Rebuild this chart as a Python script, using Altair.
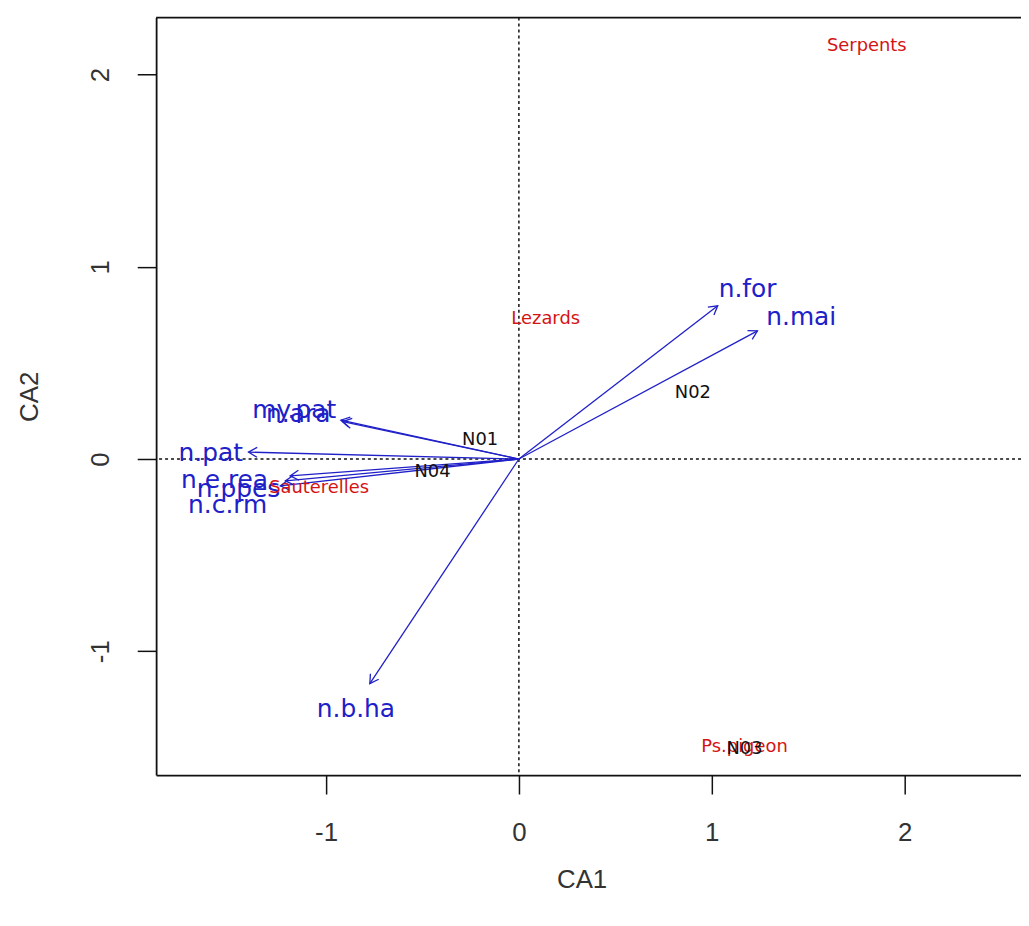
import math
import altair as alt
import pandas as pd

# ---- data ----
var_names = ["n.for", "n.mai", "n.b.ha", "n.pat", "my.pat", "n.ara", "n.e.rea", "n.ppes", "n.c.rm"]
arrow_x = [1.031, 1.237, -0.773, -1.402, -0.923, -0.913, -1.186, -1.211, -1.237]
arrow_y = [0.797, 0.667, -1.169, 0.036, 0.202, 0.195, -0.088, -0.114, -0.140]
var_label_x = [1.186, 1.464, -0.845, -1.598, -1.165, -1.144, -1.526, -1.454, -1.510]
var_label_y = [0.885, 0.740, -1.300, 0.031, 0.253, 0.233, -0.109, -0.155, -0.238]

site_names = ["Serpents", "Lezards", "Sauterelles", "Ps.pigeon"]
site_x = [1.804, 0.139, -1.036, 1.170]
site_y = [2.147, 0.729, -0.150, -1.500]

sample_names = ["N01", "N02", "N03", "N04"]
sample_x = [-0.201, 0.902, 1.170, -0.448]
sample_y = [0.098, 0.341, -1.511, -0.067]

x_ticks = [-1, 0, 1, 2]
y_ticks = [-1, 0, 1, 2]

# ---- layout ----
W, H = 870, 762
x_dom = [-1.881, -1.881 + W / 194.0]
y_dom = [-1.645, 2.297]
px_x = W / (x_dom[1] - x_dom[0])
px_y = H / (y_dom[1] - y_dom[0])

BLUE = "#2020C8"
RED = "#D41414"
FONT = "DejaVu Sans"
AXFONT = "'Liberation Sans Narrow', 'Liberation Sans', sans-serif"

arrows = pd.DataFrame({"name": var_names, "x": arrow_x, "y": arrow_y,
                       "lx": var_label_x, "ly": var_label_y})
arrows["x0"] = 0.0
arrows["y0"] = 0.0
arrows["angle"] = [(math.degrees(math.atan2(a * px_x, b * px_y))) % 360 for a, b in zip(arrow_x, arrow_y)]

sites = pd.DataFrame({"name": site_names, "x": site_x, "y": site_y})
samples = pd.DataFrame({"name": sample_names, "x": sample_x, "y": sample_y})
origin = pd.DataFrame({"v": [0.0]})

xs = alt.Scale(domain=x_dom, nice=False, zero=False)
ys = alt.Scale(domain=y_dom, nice=False, zero=False)

x_axis = alt.Axis(values=x_ticks, title="CA1", grid=False, tickSize=19, tickWidth=1.5,
                  tickColor="#111", domainColor="#111", domainWidth=1.8,
                  labelExpr="'' + datum.value",
                  labelFont=AXFONT, labelFontSize=26, labelColor="#333", labelPadding=26,
                  labelBaseline="top", titleFont=AXFONT, titleFontSize=26, titleFontWeight="normal",
                  titleColor="#333", titleY=105, titleX=428, titleBaseline="middle", titleAlign="center")
y_axis = alt.Axis(values=y_ticks, title="CA2", grid=False, tickSize=19, tickWidth=1.5,
                  tickColor="#111", domainColor="#111", domainWidth=1.8,
                  labelExpr="'' + datum.value",
                  labelFont=AXFONT, labelFontSize=26, labelColor="#333", labelPadding=24,
                  labelAngle=-90, labelAlign="center", labelBaseline="bottom",
                  titleFont=AXFONT, titleFontSize=26, titleFontWeight="normal", titleColor="#333",
                  titleX=-127, titleAngle=-90, titleBaseline="middle", titleAlign="center")

base_axes = alt.Chart(origin).mark_point(opacity=0).encode(
    x=alt.X("v:Q", scale=xs, axis=x_axis),
    y=alt.Y("v:Q", scale=ys, axis=y_axis),
)

vline = alt.Chart(origin).mark_rule(color="#111", strokeDash=[3, 3], strokeWidth=1.5).encode(
    x=alt.X("v:Q", scale=xs))
hline = alt.Chart(origin).mark_rule(color="#111", strokeDash=[3, 3], strokeWidth=1.5).encode(
    y=alt.Y("v:Q", scale=ys))
top_border = alt.Chart(origin).mark_rule(color="#111", strokeWidth=1.8).encode(
    x=alt.value(0), x2=alt.value(W), y=alt.value(0))

shafts = alt.Chart(arrows).mark_rule(color=BLUE, strokeWidth=1.3).encode(
    x=alt.X("x0:Q", scale=xs), y=alt.Y("y0:Q", scale=ys), x2="x:Q", y2="y:Q")
heads = alt.Chart(arrows).mark_point(
    shape="M-0.5,0.866L0,0L0.5,0.866", filled=False, color=BLUE, size=400, strokeWidth=1.3, opacity=1
).encode(x=alt.X("x:Q", scale=xs), y=alt.Y("y:Q", scale=ys),
         angle=alt.Angle("angle:Q", scale=None))
var_labels = alt.Chart(arrows).mark_text(font=FONT, fontSize=25, color=BLUE, align="center",
                                         baseline="middle").encode(
    x=alt.X("lx:Q", scale=xs), y=alt.Y("ly:Q", scale=ys), text="name:N")

site_labels = alt.Chart(sites).mark_text(font=FONT, fontSize=18, color=RED, align="center",
                                         baseline="middle").encode(
    x=alt.X("x:Q", scale=xs), y=alt.Y("y:Q", scale=ys), text="name:N")
sample_labels = alt.Chart(samples).mark_text(font=FONT, fontSize=18, color="#111", align="center",
                                             baseline="middle").encode(
    x=alt.X("x:Q", scale=xs), y=alt.Y("y:Q", scale=ys), text="name:N")

chart = alt.layer(
    base_axes, vline, hline, top_border, shafts, heads, var_labels, site_labels, sample_labels
).properties(
    width=W, height=H, autosize=alt.AutoSizeParams(type="none"),
    padding={"left": 149, "top": 7, "right": 0, "bottom": 130},
    background="white",
).configure_view(stroke=None)

chart.save("out.html", embed_options={"renderer": "svg", "actions": False})
